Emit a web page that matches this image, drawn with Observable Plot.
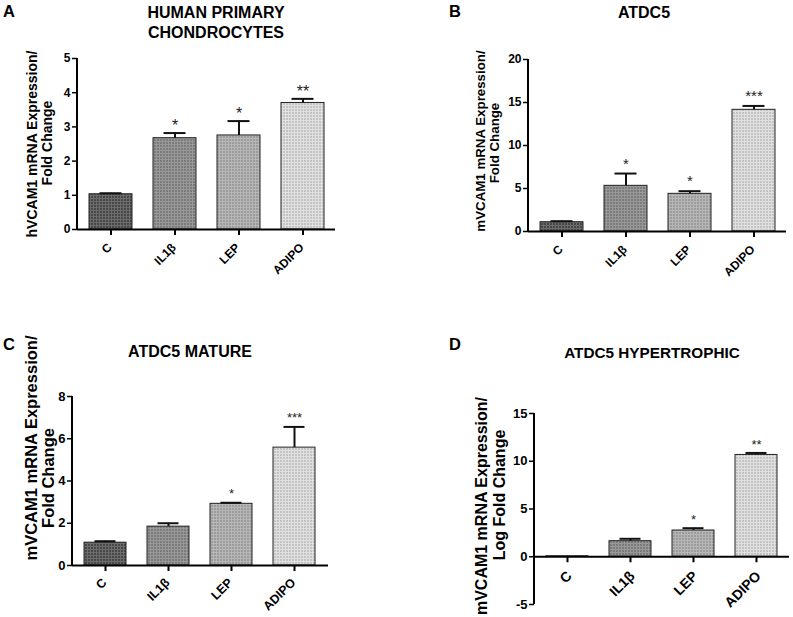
<!DOCTYPE html>
<html><head><meta charset="utf-8">
<script src="https://cdn.jsdelivr.net/npm/d3@7"></script>
<script src="https://cdn.jsdelivr.net/npm/@observablehq/plot@0.6"></script>
<style>
html,body{margin:0;padding:0;background:#fff;}
#root{position:relative;width:793px;height:617px;overflow:hidden;font-family:"Liberation Sans",Arial,sans-serif;}
.panel{position:absolute;}
#overlay{position:absolute;left:0;top:0;pointer-events:none;}
#overlay text{font-family:"Liberation Sans",Arial,sans-serif;font-weight:bold;fill:#000;}
</style></head><body>
<svg width="0" height="0" style="position:absolute">
<defs>
<pattern id="pat0" width="3" height="3" patternUnits="userSpaceOnUse"><rect width="3" height="3" fill="#484848"/><path d="M0 0.5H3M0.5 0V3" stroke="#6c6c6c" stroke-width="1"/></pattern>
<pattern id="pat1" width="3" height="3" patternUnits="userSpaceOnUse"><rect width="3" height="3" fill="#7c7c7c"/><path d="M0 0.5H3M0.5 0V3" stroke="#989898" stroke-width="1"/></pattern>
<pattern id="pat2" width="3" height="3" patternUnits="userSpaceOnUse"><rect width="3" height="3" fill="#9c9c9c"/><path d="M0 0.5H3M0.5 0V3" stroke="#b6b6b6" stroke-width="1"/></pattern>
<pattern id="pat3" width="3" height="3" patternUnits="userSpaceOnUse"><rect width="3" height="3" fill="#c4c4c4"/><path d="M0 0.5H3M0.5 0V3" stroke="#e0e0e0" stroke-width="1"/></pattern>
</defs></svg>
<div id="root"><svg id="overlay" width="793" height="617"></svg></div>
<script>
// ---- data ----
const categories = ["C", "IL1β", "LEP", "ADIPO"];

const valuesA = [1.03, 2.67, 2.75, 3.70];
const errorsA = [1.06, 2.82, 3.17, 3.82];
const starsA  = ["", "*", "*", "**"];
const ticksA  = [0, 1, 2, 3, 4, 5];

const valuesB = [1.08, 5.31, 4.38, 14.15];
const errorsB = [1.20, 6.74, 4.69, 14.60];
const starsB  = ["", "*", "*", "***"];
const ticksB  = [0, 5, 10, 15, 20];

const valuesC = [1.08, 1.84, 2.92, 5.58];
const errorsC = [1.15, 2.00, 2.97, 6.56];
const starsC  = ["", "", "*", "***"];
const ticksC  = [0, 2, 4, 6, 8];

const valuesD = [0.05, 1.63, 2.75, 10.66];
const errorsD = [0.05, 1.88, 2.99, 10.87];
const starsD  = ["", "", "*", "**"];
const ticksD  = [-5, 0, 5, 10, 15];

const panelLetters = ["A", "B", "C", "D"];
const titleA = ["HUMAN PRIMARY", "CHONDROCYTES"];
const titleB = ["ATDC5"];
const titleC = ["ATDC5 MATURE"];
const titleD = ["ATDC5 HYPERTROPHIC"];
const ylabelA = ["hVCAM1 mRNA Expression/", "Fold Change"];
const ylabelB = ["mVCAM1 mRNA Expression/", "Fold Change"];
const ylabelC = ["mVCAM1 mRNA Expression/", "Fold Change"];
const ylabelD = ["mVCAM1 mRNA Expression/", "Log Fold Change"];

// ---- layout ----
const panels = [
  {values: valuesA, errors: errorsA, stars: starsA, ticks: ticksA, left: 0, top: 0, width: 396, height: 300,
   m: [58, 61, 71, 77], fs: 12, xfs: 12, xdx: -1, xdy: 16, sfs: 16, sdy: -2},
  {values: valuesB, errors: errorsB, stars: starsB, ticks: ticksB, left: 396, top: 0, width: 397, height: 300,
   m: [59, 7, 69, 132], fs: 12, xfs: 12, xdx: -1, xdy: 16, sfs: 15, sdy: -5},
  {values: valuesC, errors: errorsC, stars: starsC, ticks: ticksC, left: 0, top: 300, width: 396, height: 317,
   m: [96, 68, 52, 72], fs: 13, xfs: 12.5, xdx: -1, xdy: 15, sfs: 13, sdy: -5},
  {values: valuesD, errors: errorsD, stars: starsD, ticks: ticksD, left: 396, top: 300, width: 397, height: 317,
   m: [113, 4, 13, 138], fs: 13, xfs: 14, xdx: 2, xdy: 17, sfs: 13, sdy: -4}
];

function yAxisLine(index, scales, values, dim) {
  const l = document.createElementNS("http://www.w3.org/2000/svg", "line");
  l.setAttribute("x1", dim.marginLeft); l.setAttribute("x2", dim.marginLeft);
  l.setAttribute("y1", dim.marginTop); l.setAttribute("y2", dim.height - dim.marginBottom);
  l.setAttribute("stroke", "#000"); l.setAttribute("stroke-width", 2);
  return l;
}

const root = document.getElementById("root");
panels.forEach(p => {
  const data = categories.map((c, i) => ({cat: c, value: p.values[i], err: p.errors[i], star: p.stars[i]}));
  const chart = Plot.plot({
    width: p.width, height: p.height,
    marginTop: p.m[0], marginRight: p.m[1], marginBottom: p.m[2], marginLeft: p.m[3],
    style: {fontFamily: "'Liberation Sans', Arial, sans-serif", color: "#000", background: "transparent", overflow: "visible"},
    x: {domain: categories, paddingInner: 0.33, paddingOuter: 0.17, axis: null},
    y: {domain: [p.ticks[0], p.ticks[p.ticks.length - 1]], axis: null},
    marks: [
      ...categories.map((c, i) => Plot.barY(data.filter(d => d.cat === c), {x: "cat", y: "value", fill: `url(#pat${i})`, stroke: "#222", strokeWidth: 1})),
      Plot.ruleX(data.filter(d => d.err > d.value), {x: "cat", y1: "value", y2: "err", strokeWidth: 2, stroke: "#111"}),
      Plot.tickY(data.filter(d => d.err > d.value), {x: "cat", y: "err", inset: 10.5, strokeWidth: 2, stroke: "#111"}),
      Plot.text(data, {x: "cat", y: "err", text: "star", lineAnchor: "bottom", dy: p.sdy, fontSize: p.sfs, fill: "#222"}),
      Plot.ruleY([0], {strokeWidth: 2}),
      Plot.ruleX(categories, {x: d => d, y1: () => 0, y2: () => 0, insetBottom: -6, strokeWidth: 2}),
      Plot.text(categories, {x: d => d, y: () => 0, text: d => d, rotate: -45, textAnchor: "end", dx: p.xdx, dy: p.xdy, fontWeight: "bold", fontSize: p.xfs}),
      Plot.axisY({ticks: p.ticks, tickFormat: d => String(d), tickSize: 5, tickPadding: 2, fontWeight: "bold", fontSize: p.fs, strokeWidth: 1.5, label: null}),
      yAxisLine
    ]
  });
  chart.classList.add("panel");
  chart.style.left = p.left + "px";
  chart.style.top = p.top + "px";
  root.insertBefore(chart, document.getElementById("overlay"));
});

// ---- text overlay ----
const ov = d3.select("#overlay");
function txt(s, x, y, size, anchor = "middle", rot = 0) {
  ov.append("text").attr("transform", `translate(${x},${y}) rotate(${rot})`)
    .attr("text-anchor", anchor).attr("font-size", size).text(s);
}
txt(panelLetters[0], 3, 17, 16.5, "start");
txt(panelLetters[1], 449, 17, 16.5, "start");
txt(panelLetters[2], 3, 350, 16.5, "start");
txt(panelLetters[3], 449, 350, 16.5, "start");

txt(titleA[0], 216, 18, 16);
txt(titleA[1], 216, 38, 16);
txt(titleB[0], 644, 18, 16);
txt(titleC[0], 190, 357, 16);
txt(titleD[0], 652, 358, 15.3);

txt(ylabelA[0], 37, 144, 14, "middle", -90);
txt(ylabelA[1], 52, 143, 14, "middle", -90);
txt(ylabelB[0], 485, 141, 13.3, "middle", -90);
txt(ylabelB[1], 499, 143, 13.3, "middle", -90);
txt(ylabelC[0], 37, 448, 16.5, "middle", -90);
txt(ylabelC[1], 54, 478, 16.5, "middle", -90);
txt(ylabelD[0], 487, 506, 16, "middle", -90);
txt(ylabelD[1], 505, 495, 16, "middle", -90);
</script>
</body></html>
